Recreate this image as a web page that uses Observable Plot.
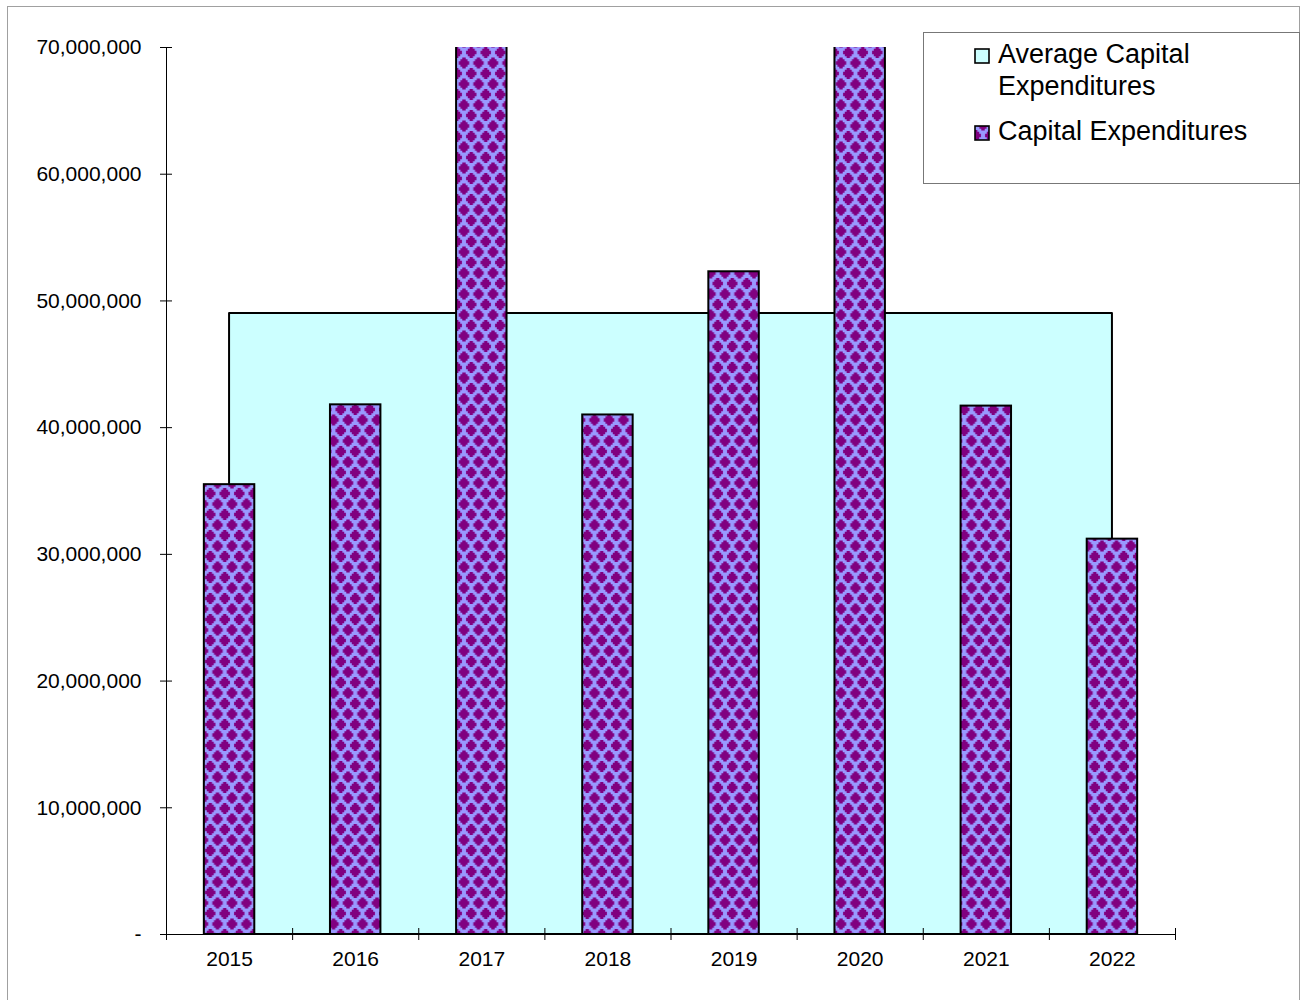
<!DOCTYPE html>
<html>
<head>
<meta charset="utf-8">
<script src="https://cdn.jsdelivr.net/npm/d3@7"></script>
<script src="https://cdn.jsdelivr.net/npm/@observablehq/plot@0.6"></script>
<style>
  body { margin: 0; background: #fff; font-family: "Liberation Sans", Arial, sans-serif; }
  #wrap { position: relative; width: 1302px; height: 1000px; overflow: hidden; background: #fff; }
  #chart { position: absolute; left: 0; top: 0; }
  #frame { position: absolute; left: 7px; top: 6px; width: 1293px; height: 1100px; border: 1.5px solid #a0a0a0; box-sizing: border-box; pointer-events: none; }
  #legend { position: absolute; left: 923px; top: 32px; width: 377px; height: 152px; border: 1px solid #777; box-sizing: border-box; background: #fff; }
  .lg-text { position: absolute; font-size: 27px; line-height: 27px; color: #000; white-space: nowrap; }
  .lg-sw { position: absolute; }
</style>
</head>
<body>
<div id="wrap">
  <div id="chart"></div>
  <div id="frame"></div>
  <div id="legend"></div>
</div>
<script>
// ---- data ----
const years = ["2015", "2016", "2017", "2018", "2019", "2020", "2021", "2022"];
const capitalExpenditures = [35500000, 41800000, 74000000, 41000000, 52300000, 74500000, 41700000, 31200000];
const averageCapitalExpenditures = [49000000, 49000000, 49000000, 49000000, 49000000, 49000000, 49000000, 49000000];
const yTicks = [0, 10000000, 20000000, 30000000, 40000000, 50000000, 60000000, 70000000];
const legendLabels = ["Average Capital\nExpenditures", "Capital Expenditures"];

const PURPLE = "#800080", LAVENDER = "#9999FF", CYAN = "#CCFFFF";

const table = years.map((yr, i) => ({
  i, year: yr,
  value: capitalExpenditures[i],
  avg: averageCapitalExpenditures[i]
}));
const boundaries = d3.range(-0.5, years.length, 1);
const fmt = d => d === 0 ? "-" : d3.format(",")(d);

const chart = Plot.plot({
  width: 1302,
  height: 1000,
  marginLeft: 166,
  marginRight: 127,
  marginTop: 47,
  marginBottom: 66,
  style: { fontFamily: "'Liberation Sans', Arial, sans-serif", fontSize: "21px", background: "transparent", color: "#000" },
  x: { type: "linear", domain: [-0.5, years.length - 0.5], axis: null },
  y: { domain: [0, 70000000], axis: null },
  marks: [
    Plot.areaY(table, { x: "i", y: "avg", fill: CYAN, stroke: "#000", strokeWidth: 2 }),
    Plot.rectY(table, { x1: d => d.i - 0.2, x2: d => d.i + 0.2, y1: 0, y2: "value", fill: "url(#capxPattern)", stroke: "#000", strokeWidth: 2, clip: true }),
    Plot.ruleY([0], { stroke: "#000", strokeWidth: 1 }),
    Plot.ruleX([-0.5], { stroke: "#000", strokeWidth: 1 }),
    Plot.axisY({ ticks: yTicks, tickSize: 12, dx: 6, fill: "none", label: null, stroke: "#000" }),
    Plot.axisY({ ticks: yTicks, tickSize: 0, tickPadding: 25, tickFormat: fmt, label: null, fontSize: 21, fill: "#000", stroke: "none" }),
    Plot.axisX({ ticks: boundaries, tickSize: 12, dy: -6, fill: "none", label: null, stroke: "#000" }),
    Plot.axisX({ ticks: d3.range(years.length), tickSize: 0, tickPadding: 17, tickFormat: i => years[i], label: null, fontSize: 21, fill: "#000", stroke: "none" })
  ]
});

function addPattern(svgSel, id, offX = 0, offY = 0) {
  const defs = svgSel.insert("defs", ":first-child");
  const W = 14.5, H = 21;
  const p = defs.append("pattern").attr("id", id).attr("patternUnits", "userSpaceOnUse")
    .attr("width", W).attr("height", H).attr("x", offX).attr("y", offY);
  p.append("rect").attr("width", W).attr("height", H).attr("fill", LAVENDER);
  const blob = (cx, cy) => {
    const pts = [[-1.7,-5.4],[1.7,-5.4],[1.7,-3.8],[3.5,-3.8],[3.5,-1.8],[5.2,-1.8],[5.2,1.8],[3.5,1.8],[3.5,3.8],[1.7,3.8],[1.7,5.4],[-1.7,5.4],[-1.7,3.8],[-3.5,3.8],[-3.5,1.8],[-5.2,1.8],[-5.2,-1.8],[-3.5,-1.8],[-3.5,-3.8],[-1.7,-3.8]];
    p.append("polygon").attr("points", pts.map(([a, b]) => `${cx + a},${cy + b}`).join(" ")).attr("fill", PURPLE);
  };
  blob(W / 2, H / 2);
  blob(0, 0); blob(W, 0); blob(0, H); blob(W, H);
}

const svg = d3.select(chart);
addPattern(svg, "capxPattern");
document.getElementById("chart").appendChild(chart);

// ---- legend ----
const legend = document.getElementById("legend");
function swatch(left, top, fill, withPattern) {
  const s = d3.create("svg").attr("class", "lg-sw").attr("width", 16).attr("height", 16)
    .style("left", left + "px").style("top", top + "px");
  if (withPattern) addPattern(s, "capxPatternLegend", -5.5, 0);
  s.append("rect").attr("x", 1).attr("y", 1).attr("width", 14).attr("height", 14)
    .attr("fill", fill).attr("stroke", "#000").attr("stroke-width", 1.6);
  legend.appendChild(s.node());
}
// positions relative to legend box (left 923, top 32)
swatch(973 - 923, 47 - 32, CYAN, false);
swatch(973 - 923, 124 - 32, "url(#capxPatternLegend)", true);
const l1 = legendLabels[0].split("\n");
[[l1[0], 40], [l1[1], 72], [legendLabels[1], 117]].forEach(([t, top]) => {
  const d = document.createElement("div");
  d.className = "lg-text";
  d.textContent = t;
  d.style.left = (997 - 923) + "px";
  d.style.top = (top - 32) + "px";
  legend.appendChild(d);
});
</script>
</body>
</html>
